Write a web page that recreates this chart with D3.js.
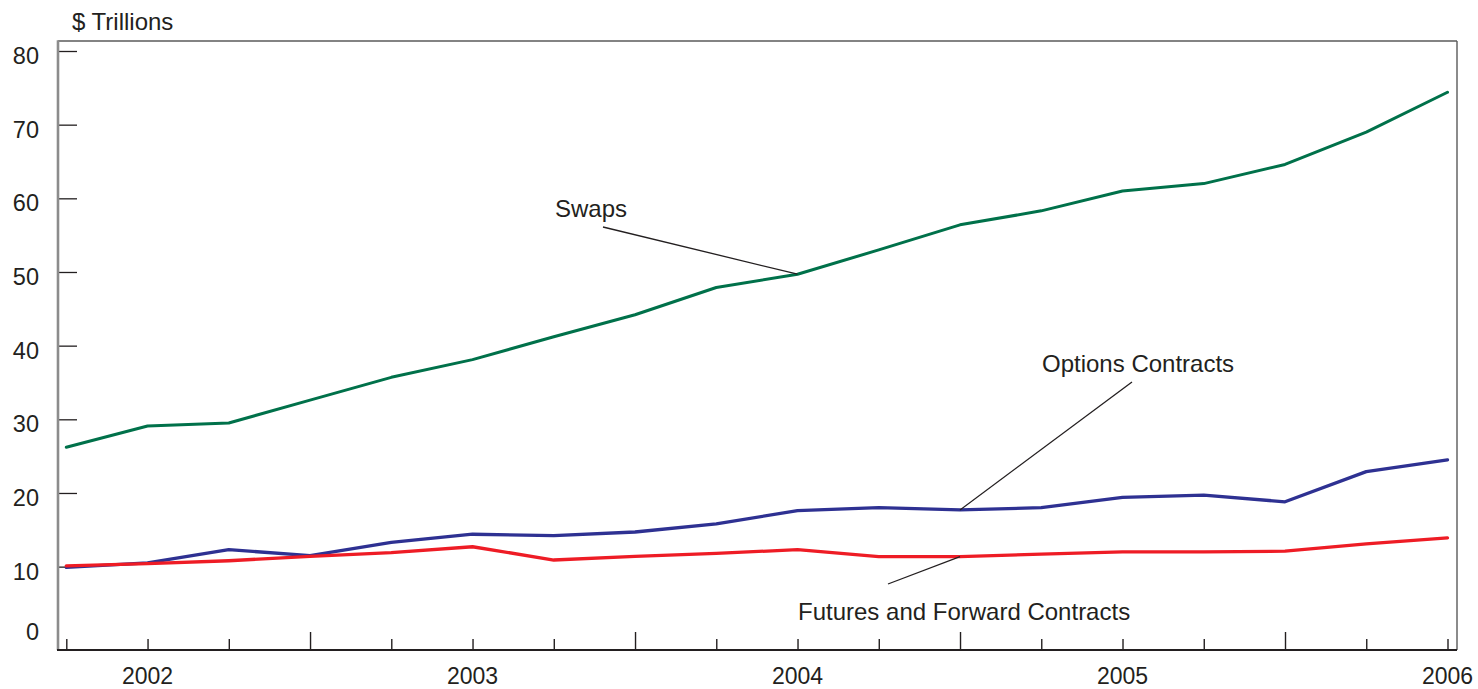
<!DOCTYPE html>
<html>
<head>
<meta charset="utf-8">
<script src="https://cdn.jsdelivr.net/npm/d3@7"></script>
<style>
  html, body { margin: 0; padding: 0; background: #fff; }
  svg { display: block; }
  text { font-family: "Liberation Sans", Arial, Helvetica, sans-serif; fill: #231f20; }
</style>
</head>
<body>
<svg id="chart" width="1478" height="689"></svg>
<script>
// ---- data ----
const periods = ["2001Q4","2002Q1","2002Q2","2002Q3","2002Q4","2003Q1","2003Q2","2003Q3","2003Q4",
                 "2004Q1","2004Q2","2004Q3","2004Q4","2005Q1","2005Q2","2005Q3","2005Q4","2006Q1"];
const swaps   = [26.2, 29.1, 29.5, 32.6, 35.7, 38.1, 41.2, 44.2, 47.9, 49.7, 53.0, 56.4, 58.3, 61.0, 62.0, 64.6, 69.0, 74.4];
const options = [ 9.9, 10.5, 12.3, 11.5, 13.3, 14.4, 14.2, 14.7, 15.8, 17.6, 18.0, 17.7, 18.0, 19.4, 19.7, 18.8, 22.9, 24.5];
const futures = [10.1, 10.4, 10.8, 11.4, 11.9, 12.7, 10.9, 11.4, 11.8, 12.3, 11.35, 11.35, 11.7, 12.0, 12.0, 12.1, 13.1, 13.9];
const yTicks  = [0, 10, 20, 30, 40, 50, 60, 70, 80];
const yearLabels = [{period: "2002Q1", label: "2002"}, {period: "2003Q1", label: "2003"},
                    {period: "2004Q1", label: "2004"}, {period: "2005Q1", label: "2005"},
                    {period: "2006Q1", label: "2006"}];
const seriesNames = ["Swaps", "Options Contracts", "Futures and Forward Contracts"];
const yUnit = "$ Trillions";

// ---- layout ----
const svg = d3.select("#chart");
const frame = {left: 58, right: 1457, top: 41, bottom: 650};
const x = d3.scalePoint().domain(periods).range([66.3, 1447.5]);
const y = d3.scaleLinear().domain([0, 80]).range([640.3, 51]);
const FONT = 24;

// frame lines
svg.append("line").attr("x1", frame.left).attr("x2", frame.right).attr("y1", frame.top).attr("y2", frame.top)
  .attr("stroke", "#5a5a5a").attr("stroke-width", 1.6);
svg.append("line").attr("x1", frame.right).attr("x2", frame.right).attr("y1", frame.top).attr("y2", frame.bottom)
  .attr("stroke", "#5a5a5a").attr("stroke-width", 1.4);

// y ticks (inside, pointing right)
const yAxis = d3.axisRight(y).tickValues(yTicks.filter(v => v > 0)).tickSize(19).tickFormat("");
const gy = svg.append("g").attr("transform", `translate(${frame.left},0)`).call(yAxis);
gy.select(".domain").remove();
gy.selectAll(".tick line").attr("stroke", "#231f20").attr("stroke-width", 1.3);

// y labels
svg.append("g").selectAll("text").data(yTicks).join("text")
  .attr("x", 39)
  .attr("y", d => d === 0 ? y(d) : y(d) + 13)
  .attr("text-anchor", "end")
  .attr("font-size", FONT - 0.5)
  .text(d => d);

// left axis line (gray)
svg.append("line").attr("x1", frame.left).attr("x2", frame.left).attr("y1", frame.top - 0.8).attr("y2", frame.bottom)
  .attr("stroke", "#8c8c8c").attr("stroke-width", 2.6);

// x axis
const xAxis = d3.axisBottom(x).tickSize(0).tickFormat("");
const gx = svg.append("g").attr("transform", `translate(0,${frame.bottom})`).call(xAxis);
gx.select(".domain").remove();
gx.selectAll(".tick").append("line")
  .attr("x1", 0).attr("x2", 0)
  .attr("y1", 0)
  .attr("y2", d => d.endsWith("Q3") ? -18 : -11)
  .attr("stroke", "#231f20").attr("stroke-width", 1.4);
svg.append("line").attr("x1", frame.left - 1).attr("x2", frame.right).attr("y1", frame.bottom).attr("y2", frame.bottom)
  .attr("stroke", "#231f20").attr("stroke-width", 1.8);

// x year labels
svg.append("g").selectAll("text").data(yearLabels).join("text")
  .attr("x", d => x(d.period))
  .attr("y", 684)
  .attr("text-anchor", "middle")
  .attr("font-size", FONT - 1)
  .text(d => d.label);

// unit label
svg.append("text").attr("x", 72).attr("y", 30).attr("font-size", FONT).text(yUnit);

// series lines
const line = d3.line().x((d, i) => x(periods[i])).y(d => y(d));
const series = [
  {name: seriesNames[0], values: swaps,   color: "#00714a", width: 3},
  {name: seriesNames[1], values: options, color: "#2e3192", width: 3.3},
  {name: seriesNames[2], values: futures, color: "#ee1c25", width: 3.3}
];
svg.append("g").selectAll("path").data(series).join("path")
  .attr("d", d => line(d.values))
  .attr("fill", "none")
  .attr("stroke", d => d.color)
  .attr("stroke-width", d => d.width)
  .attr("stroke-linejoin", "round")
  .attr("stroke-linecap", "round");

// annotations with leader lines
const ann = [
  {text: seriesNames[0], tx: 555, ty: 217, lx: 603, ly: 227, idx: 9,  values: swaps},
  {text: seriesNames[1], tx: 1042, ty: 372, lx: 1132, ly: 382, idx: 11, values: options},
  {text: seriesNames[2], tx: 798, ty: 620, lx: 888, ly: 584, idx: 11, values: futures}
];
const ga = svg.append("g");
ann.forEach(a => {
  ga.append("line")
    .attr("x1", a.lx).attr("y1", a.ly)
    .attr("x2", x(periods[a.idx])).attr("y2", y(a.values[a.idx]))
    .attr("stroke", "#231f20").attr("stroke-width", 1.3);
  ga.append("text").attr("x", a.tx).attr("y", a.ty).attr("font-size", FONT).text(a.text);
});
</script>
</body>
</html>
